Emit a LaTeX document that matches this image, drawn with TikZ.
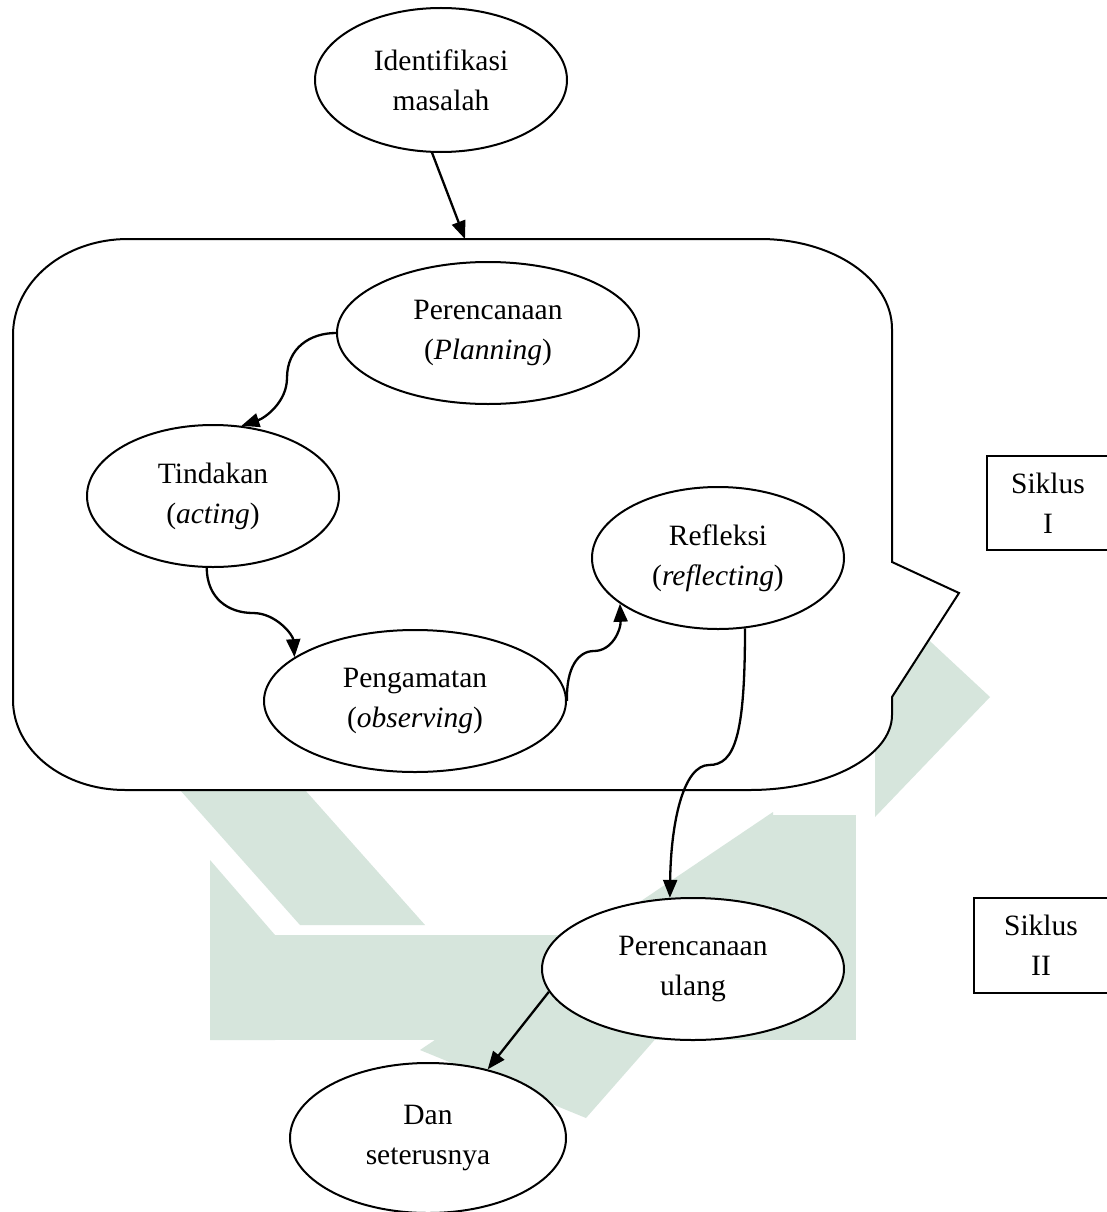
\documentclass[tikz,border=0pt]{standalone}
\usepackage{fontspec}
\setmainfont{Liberation Serif}
\usetikzlibrary{shapes.geometric,arrows.meta}
\definecolor{wmgreen}{RGB}{214,229,220}
\begin{document}
\begin{tikzpicture}[x=1pt,y=-1pt,
  lw/.style={line width=2pt},
  elnode/.style={ellipse, draw, lw, fill=white, inner sep=0pt, align=center,
    font=\fontsize{29.5}{40}\selectfont},
  conn/.style={line width=2.3pt, -{Triangle[length=18pt,width=14pt]}},
  txt/.style={align=center, inner sep=0pt, font=\fontsize{29.5}{40}\selectfont},
  wm/.style={fill=wmgreen}]
\useasboundingbox (0,0) rectangle (1106,1212);
\fill[white] (0,0) rectangle (1106,1212);
% watermark (faint background)
\fill[wm] (180,790) -- (305,790) -- (425,925) -- (300,925) -- cycle;
\fill[wm] (210,860) -- (275,935) -- (275,1040) -- (210,1040) -- cycle;
\fill[wm] (210,935) rectangle (856,1040);
\fill[wm] (773,815) rectangle (856,1040);
\fill[wm] (420,1050) -- (773,812) -- (773,905) -- (586,1118) -- cycle;
\fill[wm] (875,590) -- (990,697) -- (875,817) -- cycle;
% cycle container
\filldraw[lw, fill=white] (128,239) -- (760,239)
  .. controls (833,239) and (892,279) .. (892,329)
  -- (892,562) -- (959,593) -- (892,697) -- (892,715)
  .. controls (892,756) and (828,790) .. (750,790)
  -- (125,790)
  .. controls (63,790) and (13,750) .. (13,700)
  -- (13,335)
  .. controls (13,282) and (64,239) .. (128,239) -- cycle;
\coordinate (cyctop) at (465,239);
% nodes
\node[elnode, minimum width=252pt, minimum height=144pt] (ident) at (441,80) {Identifikasi\\masalah};
\node[elnode, minimum width=302pt, minimum height=142pt] (plan) at (488,333) {Perencanaan\\(\textit{Planning})};
\node[elnode, minimum width=252pt, minimum height=142pt] (tind) at (213,496) {Tindakan\\(\textit{acting})};
\node[elnode, minimum width=252pt, minimum height=142pt] (refl) at (718,558) {Refleksi\\(\textit{reflecting})};
\node[elnode, minimum width=302pt, minimum height=142pt] (peng) at (415,701) {Pengamatan\\(\textit{observing})};
\node[elnode, minimum width=302pt, minimum height=142pt] (ulang) at (693,969) {Perencanaan\\ulang};
\node[elnode, minimum width=276pt, minimum height=150pt] (dan) at (428,1138) {Dan\\seterusnya};
% cycle labels
\draw[line width=1.8pt] (987,456) rectangle (1125,550);
\node[txt] (sik1) at (1048,503) {Siklus\\I};
\draw[line width=1.8pt] (974,898) rectangle (1125,993);
\node[txt] (sik2) at (1041,945) {Siklus\\II};
% connectors
\draw[conn] (ident.263) -- (cyctop);
\draw[conn] (plan.180) .. controls (310,333) and (287,348) .. (287,378)
  .. controls (287,402) and (265,418) .. (tind.68);
\draw[conn] (tind.265) .. controls (207,598) and (228,613) .. (253,613)
  .. controls (276,613) and (293,635) .. (peng.160);
\draw[conn] (peng.0) .. controls (566,668) and (578,651) .. (594,651)
  .. controls (612,651) and (621,630) .. (refl.205);
\draw[conn] (refl.291) .. controls (745,735) and (735,765) .. (709,765)
  .. controls (684,765) and (671,820) .. (ulang.108);
\draw[conn] (ulang.189) -- (dan.49);
\end{tikzpicture}
\end{document}
